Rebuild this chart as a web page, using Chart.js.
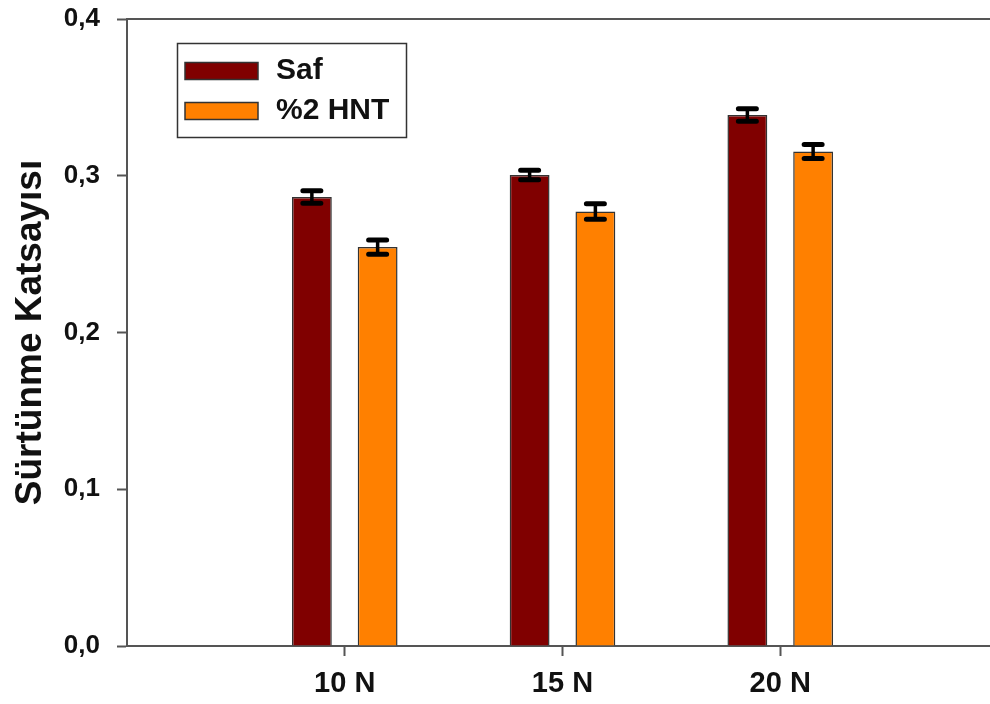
<!DOCTYPE html>
<html>
<head>
<meta charset="utf-8">
<script src="https://cdn.jsdelivr.net/npm/chart.js@4.4.1/dist/chart.umd.min.js"></script>
<style>
  html, body { margin: 0; padding: 0; background: #fff; overflow: hidden; }
  #kutu { width: 990px; height: 704px; overflow: hidden; position: relative; }
  canvas { position: absolute; left: 0; top: 0; }
</style>
</head>
<body>
<div id="kutu"><canvas id="grafik" width="999" height="704"></canvas></div>
<script>
const kategoriler = ['10 N', '15 N', '20 N'];
const seriAdlari = ['Saf', '%2 HNT'];
const safDeger = [0.2865, 0.3005, 0.3388];
const safHata = [0.004, 0.003, 0.004];
const hntDeger = [0.2545, 0.2772, 0.3155];
const hntHata = [0.0045, 0.005, 0.0045];
const yTikler = [0, 0.1, 0.2, 0.3, 0.4];

const AKS = '#555555';
const YAZI = '#111111';
Chart.defaults.font.family = "'Liberation Sans', Arial, sans-serif";

// boş kenar etiketleri: kategoriler 1/4, 2/4, 3/4 konumuna düşsün
const etiketler = ['', ...kategoriler, ''];
const dolgu = arr => [null, ...arr, null];

// hata çubukları
const hataCubugu = {
  id: 'hataCubugu',
  afterDatasetsDraw(chart) {
    const ctx = chart.ctx;
    const y = chart.scales.y;
    chart.data.datasets.forEach((ds, i) => {
      const meta = chart.getDatasetMeta(i);
      meta.data.forEach((bar, j) => {
        const v = ds.data[j];
        if (v == null) return;
        const e = ds.hata[j];
        const yUst = y.getPixelForValue(v + e);
        const yAlt = y.getPixelForValue(v - e);
        ctx.save();
        ctx.strokeStyle = '#000';
        ctx.lineCap = 'round';
        ctx.lineWidth = 3.5;
        ctx.beginPath();
        ctx.moveTo(bar.x, yUst);
        ctx.lineTo(bar.x, yAlt);
        ctx.stroke();
        ctx.lineWidth = 5;
        ctx.beginPath();
        ctx.moveTo(bar.x - 9, yUst);
        ctx.lineTo(bar.x + 9, yUst);
        ctx.moveTo(bar.x - 9, yAlt);
        ctx.lineTo(bar.x + 9, yAlt);
        ctx.stroke();
        ctx.restore();
      });
    });
  }
};

// üst çizgi ve lejant
const cerceve = {
  id: 'cerceve',
  afterDraw(chart) {
    const ctx = chart.ctx;
    const a = chart.chartArea;
    ctx.save();
    ctx.strokeStyle = AKS;
    ctx.lineWidth = 2;
    ctx.beginPath();
    ctx.moveTo(a.left, a.top);
    ctx.lineTo(a.right, a.top);
    ctx.stroke();

    // lejant kutusu
    ctx.lineWidth = 1.5;
    ctx.strokeStyle = '#333';
    ctx.strokeRect(177.5, 43.5, 229, 94);
    chart.data.datasets.forEach((ds, i) => {
      const yc = 71 + i * 40;
      ctx.fillStyle = ds.backgroundColor;
      ctx.fillRect(185, yc - 8.5, 73, 17);
      ctx.lineWidth = 1.5;
      ctx.strokeStyle = '#333';
      ctx.strokeRect(185, yc - 8.5, 73, 17);
      ctx.fillStyle = YAZI;
      ctx.font = "bold 30px 'Liberation Sans', Arial, sans-serif";
      ctx.textBaseline = 'middle';
      ctx.fillText(ds.label, 276, yc);
    });
    ctx.restore();
  }
};

new Chart(document.getElementById('grafik'), {
  type: 'bar',
  data: {
    labels: etiketler,
    datasets: [
      {
        label: seriAdlari[0],
        data: dolgu(safDeger),
        hata: dolgu(safHata),
        backgroundColor: '#800000',
        borderColor: '#333333',
        borderWidth: 1.5
      },
      {
        label: seriAdlari[1],
        data: dolgu(hntDeger),
        hata: dolgu(hntHata),
        backgroundColor: '#FF8000',
        borderColor: '#333333',
        borderWidth: 1.5
      }
    ]
  },
  options: {
    responsive: false,
    animation: false,
    categoryPercentage: 0.604,
    barPercentage: 0.606,
    layout: { padding: { top: 19, right: 1, left: 0, bottom: 0 } },
    plugins: {
      legend: { display: false },
      tooltip: { enabled: false }
    },
    scales: {
      x: {
        offset: false,
        grid: {
          offset: false,
          drawOnChartArea: false,
          tickLength: 10,
          tickWidth: 2,
          tickColor: c => (etiketler[c.index] ? AKS : 'rgba(0,0,0,0)')
        },
        border: { color: AKS, width: 2 },
        ticks: {
          color: YAZI,
          padding: 11,
          maxRotation: 0,
          autoSkip: false,
          font: { size: 29, weight: 'bold' }
        },
        afterFit(s) { s.height = 58; s.paddingLeft = 0; s.paddingRight = 0; }
      },
      y: {
        min: 0,
        max: 0.4,
        afterBuildTicks(s) { s.ticks = yTikler.map(v => ({ value: v })); },
        grid: {
          drawOnChartArea: false,
          tickLength: 10,
          tickWidth: 2,
          tickColor: AKS
        },
        border: { color: AKS, width: 2 },
        ticks: {
          color: YAZI,
          padding: 17,
          font: { size: 26, weight: 'bold' },
          callback: v => v.toFixed(1).replace('.', ',')
        },
        title: {
          display: true,
          text: 'Sürtünme Katsayısı',
          color: YAZI,
          padding: { top: 9, bottom: 0 },
          font: { size: 37, weight: 'bold' }
        },
        afterFit(s) { s.width = 127; s.paddingTop = 0; s.paddingBottom = 0; }
      }
    }
  },
  plugins: [hataCubugu, cerceve]
});
</script>
</body>
</html>
